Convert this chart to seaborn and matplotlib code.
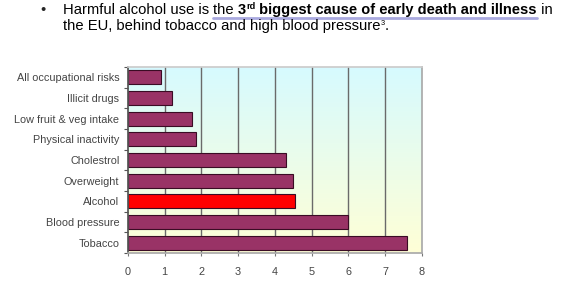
import numpy as np
import pandas as pd
import matplotlib
matplotlib.use("Agg")
import matplotlib.pyplot as plt
import matplotlib.lines as mlines
import seaborn as sns

categories = ["All occupational risks", "Illicit drugs", "Low fruit & veg intake",
              "Physical inactivity", "Cholestrol", "Overweight", "Alcohol",
              "Blood pressure", "Tobacco"]
values = [0.9, 1.2, 1.75, 1.85, 4.3, 4.5, 4.55, 6.0, 7.6]
x_ticks = [0, 1, 2, 3, 4, 5, 6, 7, 8]

bar_color = "#993366"
highlight_color = "#ff0000"
colors = [highlight_color if c == "Alcohol" else bar_color for c in categories]

df = pd.DataFrame({"cause": categories, "value": values})

sns.set_theme(style="white")
plt.rcParams["font.family"] = ["Liberation Sans", "DejaVu Sans"]

fig = plt.figure(figsize=(5.81, 2.81), dpi=100)
ax = fig.add_axes([0.220, 0.100, 0.506, 0.662])

# gradient background
grad = np.linspace(0, 1, 256).reshape(-1, 1)
top = np.array([0.84, 0.98, 1.0])
bot = np.array([1.0, 1.0, 0.84])
img = top[None, None, :] * (1 - grad[..., None]) + bot[None, None, :] * grad[..., None]
ax.imshow(img, extent=[0, 1, 0, 1], transform=ax.transAxes, aspect="auto", zorder=0)

sns.barplot(data=df, x="value", y="cause", hue="cause", palette=colors, legend=False,
            orient="h", width=0.68, saturation=1, edgecolor="#3a0c24", linewidth=0.8,
            ax=ax, zorder=3)

ax.set_xlim(0, 8)
ax.set_ylim(len(categories) - 0.5, -0.5)
ax.set_xticks(x_ticks)
ax.set_xticklabels([str(t) for t in x_ticks])
for tk in x_ticks[1:-1]:
    ax.axvline(tk, color="#6a6a6a", linewidth=1.0, zorder=2)
ax.set_xlabel("")
ax.set_ylabel("")
ax.tick_params(axis="y", which="major", length=0, labelsize=7.8, labelcolor="#444444", pad=6)
ax.tick_params(axis="x", which="major", length=2.5, width=0.8, color="#777777", bottom=True,
               labelsize=7.8, labelcolor="#444444", pad=8)
ax.set_yticks(np.arange(-0.5, len(categories), 1.0), minor=True)
ax.tick_params(axis="y", which="minor", length=3, color="#555555", width=0.8, left=True)
ax.spines["left"].set_color("#555555")
ax.spines["bottom"].set_color("#aaaaaa")
ax.spines["right"].set_color("#aaaaaa")
ax.spines["top"].set_color("#cccccc")
for s in ax.spines.values():
    s.set_zorder(4)

fig.canvas.draw()
renderer = fig.canvas.get_renderer()
fs = 10.6
fb = 10.55


def place(x_px, y_px, pieces):
    cx = x_px
    out = []
    for txt, w, size, dy in pieces:
        tt = fig.text(cx / 581, 1 - (y_px - dy) / 281, txt, fontsize=size, fontweight=w,
                      va="baseline", ha="left", color="black")
        bb = tt.get_window_extent(renderer=renderer)
        cx += bb.width
        out.append((tt, bb))
    return out


fig.text(40 / 581, 1 - 14 / 281, "\u2022", fontsize=fs, va="baseline", ha="left")
l1 = place(63, 14, [("Harmful alcohol use is ", "normal", fs, 0),
                    ("the ", "normal", fs, 0),
                    ("3", "bold", fb, 0),
                    ("rd", "bold", fb * 0.62, 5),
                    (" biggest cause of early death and illness", "bold", fb, 0),
                    (" in", "normal", fs, 0)])
l2 = place(63, 30, [("the EU, behind tobacco and high blood pressure", "normal", fs, 0),
                    ("3", "normal", fs * 0.5, 5),
                    (".", "normal", fs, 0)])

x_start = l1[1][1].x0 / 581
x_end = l1[4][1].x1 / 581
fig.add_artist(mlines.Line2D([x_start, x_end], [1 - 18 / 281, 1 - 18 / 281],
                             color="#a0a0dc", linewidth=2.0, alpha=0.9,
                             solid_capstyle="round", transform=fig.transFigure))

fig.savefig("out.png", dpi=100)
